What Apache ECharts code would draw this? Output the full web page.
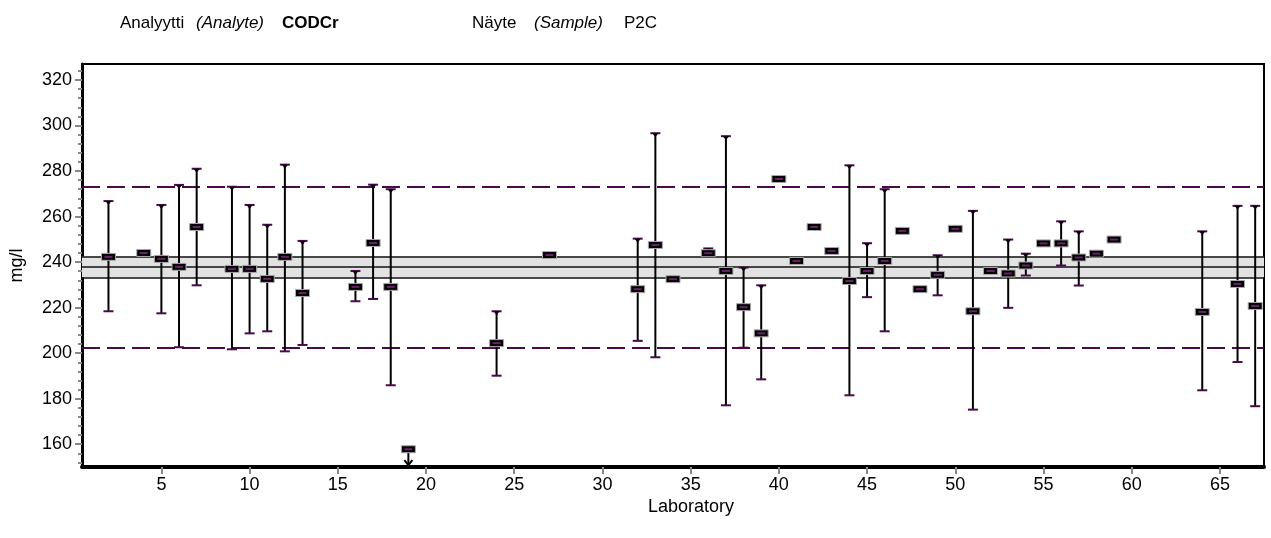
<!DOCTYPE html>
<html>
<head>
<meta charset="utf-8">
<script src="https://cdn.jsdelivr.net/npm/echarts@6/dist/echarts.min.js"></script>
<style>
html,body{margin:0;padding:0;background:#fff;}
#c{width:1271px;height:538px;}
</style>
</head>
<body>
<div id="c"></div>
<script>
// ---- data ----
const labs   = [2,4,5,6,7,9,10,11,12,13,16,17,18,19,24,27,32,33,34,36,37,38,39,40,41,42,43,44,45,46,47,48,49,50,51,52,53,54,55,56,57,58,59,64,66,67];
const values = [242.3,244.0,241.4,237.9,255.4,237.0,237.0,232.6,242.3,226.4,229.1,248.4,229.1,157.8,204.4,243.1,228.1,247.5,232.5,243.9,236.1,220.2,208.7,276.5,240.5,255.4,244.9,231.7,236.1,240.5,253.7,228.1,234.4,254.6,218.4,236.1,235.0,238.5,248.2,248.2,242.0,243.7,249.9,218.1,230.4,220.7];
const lows   = [218.4,null,217.5,202.6,229.8,201.7,208.7,209.6,200.8,203.6,222.8,223.8,185.9,null,190.1,null,205.4,198.2,null,242.5,177.1,202.4,188.5,null,null,null,null,181.5,224.6,209.6,null,null,225.4,null,175.2,null,219.9,234.1,null,238.5,229.7,null,null,183.7,196.1,176.7];
const highs  = [266.8,null,265.1,273.9,281.0,273.1,265.1,256.4,282.8,249.3,236.1,274.0,272.0,null,218.4,null,250.3,296.6,null,246.0,295.3,237.6,229.8,null,null,null,null,282.5,248.3,272.0,null,null,243.0,null,262.5,null,249.9,243.7,null,257.9,253.5,null,null,253.5,264.7,264.7];
const belowRange = [19];           // labs whose result lies below the plotted range (arrow)
const assignedValue = 237.9;
const bandLow = 233.3, bandHigh = 242.5;
const limitLow = 202.5, limitHigh = 273.3;
const yLabelValues = [160,180,200,220,240,260,280,300,320];
const yMinorValues = [152,156,164,168,172,176,184,188,192,196,204,208,212,216,224,228,232,236,244,248,252,256,264,268,272,276,284,288,292,296,304,308,312,316,324];
const xLabelValues = [5,10,15,20,25,30,35,40,45,50,55,60,65];

const FONT = 'Liberation Sans, Arial, sans-serif';
const PURPLE = '#4a0a4a';

const data = labs.map((l,i)=>[l, values[i], lows[i], highs[i], belowRange.includes(l)?1:0]);

function renderItem(params, api){
  const x = api.value(0), v = api.value(1), lo = api.value(2), hi = api.value(3), arrow = api.value(4);
  const p = api.coord([x, v]);
  const children = [];
  const capW = 5;
  if (!isNaN(lo) && !isNaN(hi) && lo !== null && hi !== null) {
    const pl = api.coord([x, lo]), ph = api.coord([x, hi]);
    children.push({type:'line', shape:{x1:p[0],y1:ph[1],x2:p[0],y2:pl[1]}, style:{stroke:'#000',lineWidth:2}});
    children.push({type:'line', shape:{x1:p[0]-capW,y1:ph[1],x2:p[0]+capW,y2:ph[1]}, style:{stroke:PURPLE,lineWidth:2}});
    children.push({type:'line', shape:{x1:p[0]-capW,y1:pl[1],x2:p[0]+capW,y2:pl[1]}, style:{stroke:PURPLE,lineWidth:2}});
    children.push({type:'polygon', shape:{points:[[p[0]-3,ph[1]],[p[0]+3,ph[1]],[p[0],ph[1]+4]]}, style:{fill:'#000'}});
  }
  if (arrow) {
    const base = p[1]+3;
    children.push({type:'line', shape:{x1:p[0],y1:base,x2:p[0],y2:base+13}, style:{stroke:'#000',lineWidth:2}});
    children.push({type:'polyline', shape:{points:[[p[0]-4,base+8],[p[0],base+13],[p[0]+4,base+8]]}, style:{stroke:'#000',lineWidth:2,fill:null}});
  }
  children.push({type:'rect', shape:{x:p[0]-7,y:p[1]-3.5,width:14,height:7}, style:{fill:'#000',stroke:'#aaa',lineWidth:1}});
  children.push({type:'rect', shape:{x:p[0]-4,y:p[1]-1,width:8,height:2}, style:{fill:'#6a206a'}});
  return {type:'group', children};
}

const chart = echarts.init(document.getElementById('c'), null, {renderer:'canvas'});
chart.setOption({
  animation:false,
  textStyle:{fontFamily:FONT},
  graphic:[
    {type:'text', left:120, top:15, style:{text:'Analyytti', font:'17px '+FONT, fill:'#000'}},
    {type:'text', left:196, top:15, style:{text:'(Analyte)', font:'italic 17px '+FONT, fill:'#000'}},
    {type:'text', left:282, top:15, style:{text:'CODCr', font:'bold 17px '+FONT, fill:'#000'}},
    {type:'text', left:472, top:15, style:{text:'Näyte', font:'17px '+FONT, fill:'#000'}},
    {type:'text', left:534, top:15, style:{text:'(Sample)', font:'italic 17px '+FONT, fill:'#000'}},
    {type:'text', left:624, top:15, style:{text:'P2C', font:'17px '+FONT, fill:'#000'}},
    {type:'text', x:691, y:507, style:{text:'Laboratory', font:'18px '+FONT, fill:'#000', align:'center', verticalAlign:'middle'}}
  ],
  grid:{left:82, right:7, top:64, bottom:71, show:true, borderColor:'#000', borderWidth:2, backgroundColor:'transparent'},
  xAxis:{
    type:'value', min:0.5, max:67.5,
    axisLine:{show:true, onZero:false, lineStyle:{color:'#000', width:4}},
    axisTick:{show:true, customValues:xLabelValues, length:7, lineStyle:{color:'#888', width:2}},
    axisLabel:{customValues:xLabelValues, fontSize:18, color:'#000', margin:9, fontFamily:FONT},
    splitLine:{show:false}
  },
  yAxis:[{
    type:'value', min:150, max:327,
    name:'mg/l', nameLocation:'middle', nameGap:56, nameRotate:90,
    nameTextStyle:{fontSize:18, color:'#000', fontFamily:FONT},
    axisLine:{show:true, onZero:false, lineStyle:{color:'#000', width:3}},
    axisTick:{show:true, customValues:yLabelValues, length:7, lineStyle:{color:'#888', width:2}},
    axisLabel:{customValues:yLabelValues, fontSize:18, color:'#000', margin:10, fontFamily:FONT},
    splitLine:{show:false}
  },{
    type:'value', min:150, max:327, position:'left',
    axisLine:{show:false},
    axisTick:{show:true, customValues:yMinorValues, length:4, lineStyle:{color:'#888', width:2}},
    axisLabel:{show:false},
    splitLine:{show:false}
  }],
  series:[
    {
      type:'line', data:[], silent:true,
      markArea:{silent:true, itemStyle:{color:'#e2e2e2'}, data:[[{yAxis:bandLow},{yAxis:bandHigh}]]},
      markLine:{silent:true, symbol:'none', label:{show:false},
        data:[
          {yAxis:bandLow, lineStyle:{color:'#111', width:1.5, type:'solid'}},
          {yAxis:assignedValue, lineStyle:{color:'#111', width:1.5, type:'solid'}},
          {yAxis:bandHigh, lineStyle:{color:'#111', width:1.5, type:'solid'}},
          {yAxis:limitHigh, lineStyle:{color:PURPLE, width:2, type:[18,7]}},
          {yAxis:limitLow, lineStyle:{color:PURPLE, width:2, type:[18,7]}}
        ]}
    },
    {
      type:'custom', renderItem:renderItem, data:data, clip:false, z:5,
      encode:{x:0, y:1}
    }
  ]
});
</script>
</body>
</html>
